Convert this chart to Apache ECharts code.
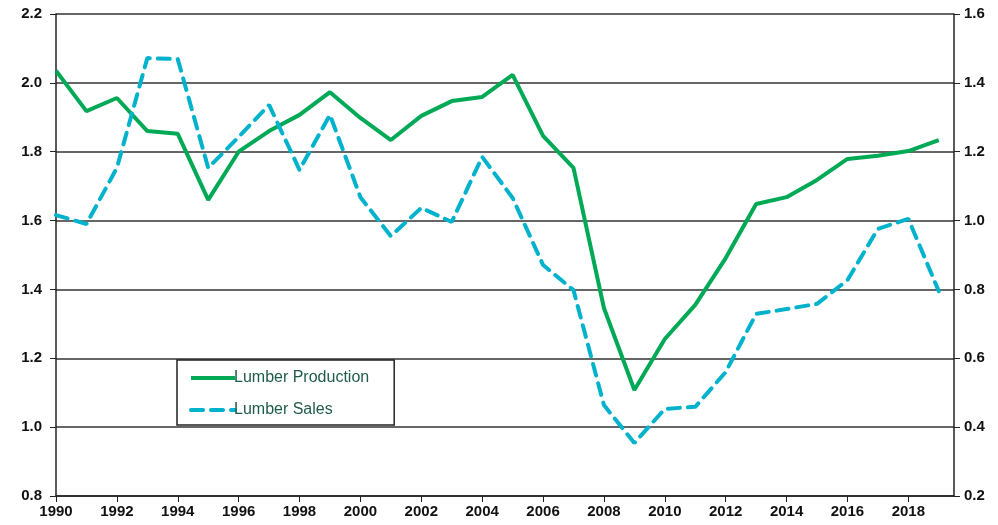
<!DOCTYPE html>
<html><head><meta charset="utf-8">
<script src="https://cdn.jsdelivr.net/npm/echarts@6/dist/echarts.min.js"></script>
<style>html,body{margin:0;padding:0;background:#fff}#c{width:998px;height:525px}</style>
</head><body><div id="c"></div>
<script>
const years = [1990,1991,1992,1993,1994,1995,1996,1997,1998,1999,2000,2001,2002,2003,2004,2005,2006,2007,2008,2009,2010,2011,2012,2013,2014,2015,2016,2017,2018,2019];
const production = [2.035,1.918,1.956,1.86,1.852,1.66,1.80,1.86,1.907,1.973,1.898,1.834,1.904,1.947,1.959,2.023,1.846,1.753,1.346,1.108,1.256,1.355,1.491,1.648,1.668,1.718,1.779,1.788,1.802,1.834];
const sales = [1.016,0.99,1.153,1.472,1.469,1.153,1.243,1.336,1.147,1.307,1.068,0.955,1.037,0.996,1.185,1.066,0.871,0.798,0.464,0.354,0.453,0.459,0.56,0.729,0.743,0.758,0.827,0.976,1.005,0.795];
const seriesNames = ['Lumber Production','Lumber Sales'];

const chart = echarts.init(document.getElementById('c'));
const font = '"Liberation Sans", Arial, sans-serif';
const lab = {color:'#111', fontSize:15, fontWeight:'bold', fontFamily:font};
chart.setOption({
  animation:false,
  grid:{left:56, right:44, top:14, bottom:29},
  legend:{
    orient:'vertical', left:177, top:360, width:217,
    data:seriesNames,
    itemWidth:44, itemHeight:10, itemGap:16,
    padding:[10,25,7,12],
    borderColor:'#222', borderWidth:1.5,
    itemStyle:{opacity:0},
    lineStyle:{width:4},
    textStyle:{color:'#1f5b4b', fontSize:16, fontFamily:font, padding:[0,0,0,-6]}
  },
  xAxis:{
    type:'value', min:1990, max:2019.5, interval:2,
    axisLine:{show:true, lineStyle:{color:'#222', width:1.5}},
    axisTick:{show:true, length:6, lineStyle:{color:'#222'}},
    axisLabel:{...lab, margin:8, formatter:v=>String(v), showMaxLabel:false},
    splitLine:{show:false}
  },
  yAxis:[{
    type:'value', min:0.8, max:2.2, interval:0.2,
    axisLine:{show:true, lineStyle:{color:'#222', width:1.5}},
    axisTick:{show:true, length:6, lineStyle:{color:'#222'}},
    axisLabel:{...lab, margin:14, formatter:v=>v.toFixed(1)},
    splitLine:{show:true, lineStyle:{color:'#333', width:1.5}}
  },{
    type:'value', min:0.2, max:1.6, interval:0.2,
    axisLine:{show:true, lineStyle:{color:'#222', width:1.5}},
    axisTick:{show:true, length:6, lineStyle:{color:'#222'}},
    axisLabel:{...lab, margin:10, formatter:v=>v.toFixed(1)},
    splitLine:{show:false}
  }],
  series:[{
    name:seriesNames[0], type:'line', yAxisIndex:0, symbol:'none',
    data:years.map((y,i)=>[y,production[i]]),
    lineStyle:{color:'#00a956', width:4}, itemStyle:{color:'#00a956'}
  },{
    name:seriesNames[1], type:'line', yAxisIndex:1, symbol:'none',
    data:years.map((y,i)=>[y,sales[i]]),
    lineStyle:{color:'#00b2cc', width:4, type:[12,8], cap:'round'}, itemStyle:{color:'#00b2cc'}
  }]
});
</script></body></html>
